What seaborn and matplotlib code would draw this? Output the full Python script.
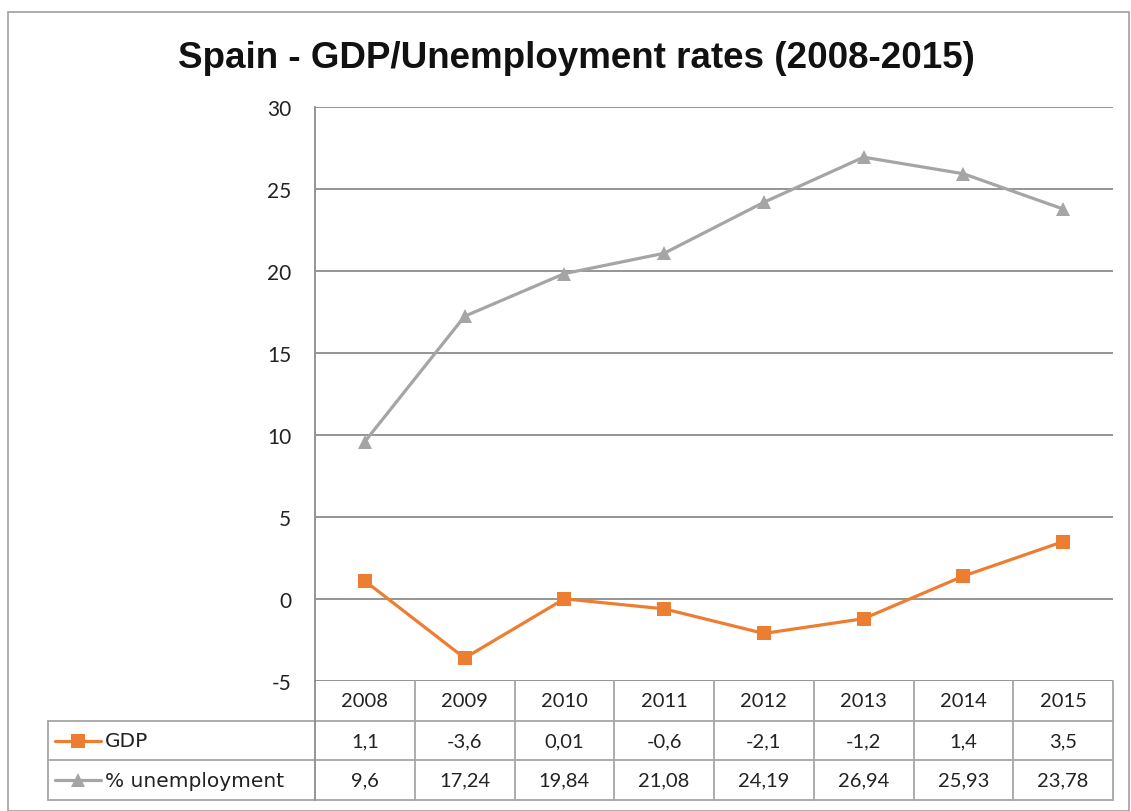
import numpy as np
import pandas as pd
import matplotlib.pyplot as plt
import seaborn as sns
from matplotlib.patches import Rectangle
from matplotlib.lines import Line2D

# Data
years = ['2008', '2009', '2010', '2011', '2012', '2013', '2014', '2015']
gdp = [1.1, -3.6, 0.01, -0.6, -2.1, -1.2, 1.4, 3.5]
unemployment = [9.6, 17.24, 19.84, 21.08, 24.19, 26.94, 25.93, 23.78]
series_names = ['GDP', '% unemployment']
y_ticks = [-5, 0, 5, 10, 15, 20, 25, 30]

df = pd.DataFrame({'Year': years, 'GDP': gdp, '% unemployment': unemployment})
long_df = df.melt(id_vars='Year', var_name='Series', value_name='Value')

sns.set_theme(style="white")
plt.rcParams['font.family'] = ['Lato', 'DejaVu Sans']

orange = '#ED7D31'
gray = '#A5A5A5'
grid_col = '#8C8C8C'
table_col = '#A6A6A6'
text_col = '#222222'
W, H = 1131, 812

fig = plt.figure(figsize=(W / 100, H / 100), dpi=100)

# Outer chart frame
fig.patches.append(Rectangle((8 / W, 0), 1121 / W, 1 - 13 / H, transform=fig.transFigure,
                             fill=False, edgecolor='#A0A0A0', linewidth=1.2))

# Plot area
ax = fig.add_axes([315 / W, 1 - 682 / H, 798 / W, 574 / H])
palette = {'GDP': orange, '% unemployment': gray}
markers = {'GDP': 's', '% unemployment': '^'}
sns.lineplot(data=long_df, x='Year', y='Value', hue='Series', style='Series',
             palette=palette, markers=markers, dashes=False, sort=False,
             linewidth=2.3, markersize=10, markeredgewidth=0, legend=False, ax=ax)

ax.set_xlim(-0.5, len(years) - 0.5)
ax.set_ylim(-5, 30)
ax.set_yticks(y_ticks)
ax.set_yticklabels([str(t) for t in y_ticks], fontsize=15, color=text_col)
ax.tick_params(axis='y', length=0, pad=17)
ax.set_xticks([])
ax.set_xlabel('')
ax.set_ylabel('')
for t in y_ticks:
    ax.axhline(t, color=grid_col, linewidth=1.3, zorder=0)
for side in ['top', 'right', 'bottom']:
    ax.spines[side].set_visible(False)
ax.spines['left'].set_color(grid_col)
ax.spines['left'].set_linewidth(1.3)

fig.text(576 / W, 1 - 58 / H, 'Spain - GDP/Unemployment rates (2008-2015)',
         ha='center', va='center', fontsize=26.5, fontweight='bold',
         family=['Liberation Sans', 'DejaVu Sans'], color='#111111')

# Data table below the plot
tab = fig.add_axes([315 / W, 1 - 801 / H, 798 / W, 119 / H])
tab.set_xlim(-0.5, len(years) - 0.5)
tab.set_ylim(0, 3)
tab.axis('off')
col_w = 798 / len(years)
label_left = -0.5 - (315 - 48) / col_w
lw = 1.3

# horizontal lines
for yy in [0, 1, 2]:
    tab.plot([label_left, 7.5], [yy, yy], color=table_col, lw=lw, clip_on=False)
# vertical lines
tab.plot([label_left, label_left], [0, 2], color=table_col, lw=lw, clip_on=False)
for i in range(len(years) + 1):
    tab.plot([i - 0.5, i - 0.5], [0, 3], color=table_col if i > 0 else grid_col,
             lw=lw, clip_on=False)

def fmt(v):
    return str(v).replace('.', ',')

fs = 14.5
for i, yr in enumerate(years):
    tab.text(i, 2.5, yr, ha='center', va='center', fontsize=fs, color=text_col)
    tab.text(i, 1.5, fmt(gdp[i]), ha='center', va='center', fontsize=fs, color=text_col)
    tab.text(i, 0.5, fmt(unemployment[i]), ha='center', va='center', fontsize=fs, color=text_col)

# legend keys inside the table
key_x0 = label_left + 7 / col_w
key_x1 = label_left + 53 / col_w
for row, name in zip([1.5, 0.5], series_names):
    tab.add_line(Line2D([key_x0, key_x1], [row, row], color=palette[name], lw=2.3,
                        clip_on=False))
    tab.plot([(key_x0 + key_x1) / 2], [row], marker=markers[name], color=palette[name],
             markersize=10, markeredgewidth=0, clip_on=False)
    tab.text(key_x1 + 4 / col_w, row, name, ha='left', va='center', fontsize=fs,
             color=text_col, family=['DejaVu Sans'])

fig.savefig('out.png', dpi=100, facecolor='white')
